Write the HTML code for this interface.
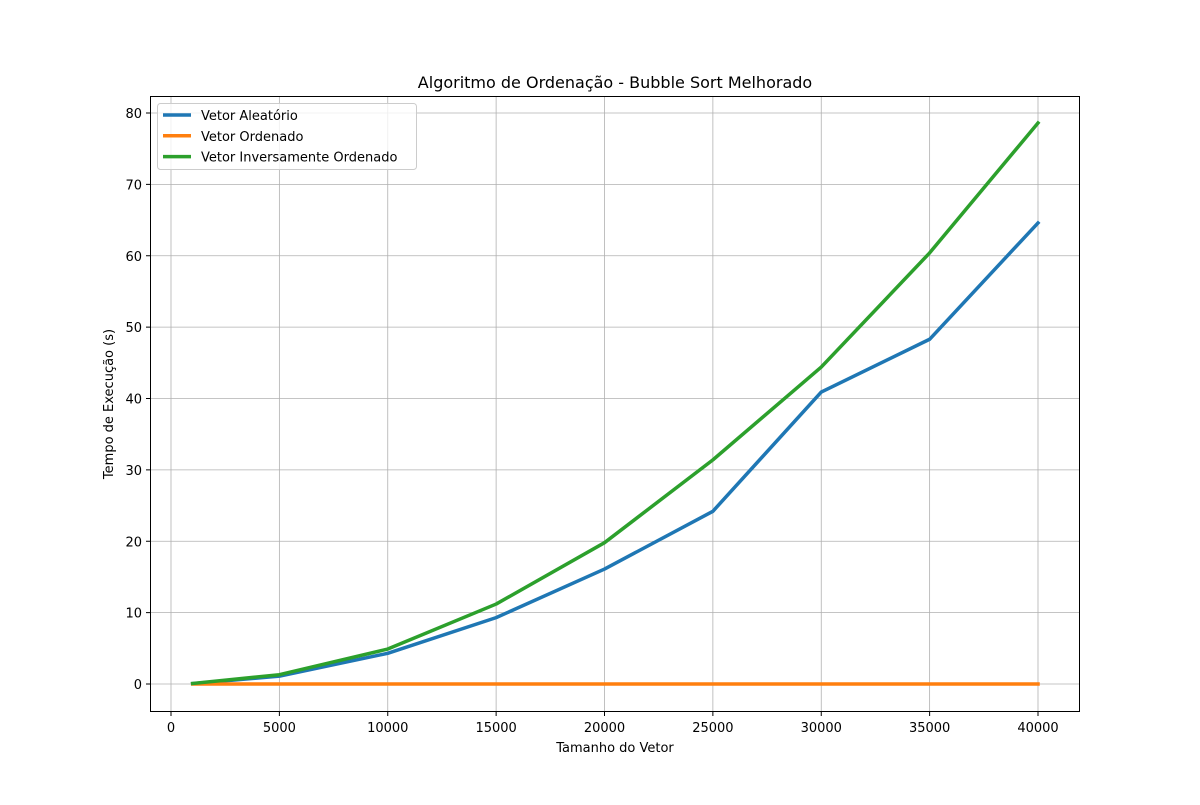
<!DOCTYPE html>
<html><head><meta charset="utf-8"><style>
body{margin:0;background:#fff;}
svg text{font-family:"DejaVu Sans","Liberation Sans",sans-serif;fill:#000;}
</style></head><body>
<svg id="chart" width="1200" height="800" xmlns="http://www.w3.org/2000/svg">
<rect width="1200" height="800" fill="#fff"/>
<g id="grid"></g>
<g id="series"></g>
<rect x="150.5" y="96.5" width="929" height="615" fill="none" stroke="#000" stroke-width="1"/>
<g id="ticks"></g>
<text x="615" y="88" font-size="16" text-anchor="middle">Algoritmo de Ordenação - Bubble Sort Melhorado</text>
<text x="615" y="752" font-size="13" text-anchor="middle">Tamanho do Vetor</text>
<text transform="translate(113,404) rotate(-90)" font-size="13" text-anchor="middle">Tempo de Execução (s)</text>
<g id="legend">
<rect x="157.5" y="103.5" width="259" height="66" rx="3" fill="#fff" fill-opacity="0.8" stroke="#ccc"/>
</g>
</svg>
<script>
const sizes=[1000,5000,10000,15000,20000,25000,30000,35000,40000];
const aleatorio=[0.05,1.1,4.3,9.3,16.1,24.2,40.9,48.3,64.6];
const ordenado=[0,0,0,0,0,0,0,0,0];
const inverso=[0.07,1.3,4.9,11.2,19.8,31.4,44.4,60.4,78.6];
const seriesNames=["Vetor Aleatório","Vetor Ordenado","Vetor Inversamente Ordenado"];
const xTicks=[0,5000,10000,15000,20000,25000,30000,35000,40000];
const yTicks=[0,10,20,30,40,50,60,70,80];

const NS="http://www.w3.org/2000/svg";
function xS(v){return 171+v*(867/40000);}
function yS(v){return 684-v*(571/80);}
function mk(tag,attrs,parent){const e=document.createElementNS(NS,tag);for(const k in attrs)e.setAttribute(k,attrs[k]);parent.appendChild(e);return e;}
const grid=document.getElementById('grid'),ticks=document.getElementById('ticks'),ser=document.getElementById('series'),leg=document.getElementById('legend');
xTicks.forEach(v=>{
  const x=xS(v);
  const g=mk('line',{x1:x,x2:x,y1:96,y2:712,stroke:'#b0b0b0','stroke-width':0.8},grid);
  
  
  mk('line',{x1:x,x2:x,y1:712,y2:716,stroke:'#000'},ticks);
  const t=mk('text',{x:x,y:732,'font-size':13,'text-anchor':'middle'},ticks);
  t.textContent=v;
  
  
});
yTicks.forEach(v=>{
  const y=yS(v);
  const g=mk('line',{x1:150,x2:1080,y1:y,y2:y,stroke:'#b0b0b0','stroke-width':0.8},grid);
  
  
  mk('line',{x1:146,x2:150,y1:y,y2:y,stroke:'#000'},ticks);
  const t=mk('text',{x:142,y:y+5,'font-size':13,'text-anchor':'end'},ticks);
  t.textContent=v;
  
  
});
const all=[aleatorio,ordenado,inverso],colors=['#1f77b4','#ff7f0e','#2ca02c'],names=['line-aleatorio','line-ordenado','line-inverso'];
all.forEach((d,i)=>{
  const p=mk('polyline',{points:d.map((v,j)=>xS(sizes[j])+','+yS(v)).join(' '),fill:'none',stroke:colors[i],'stroke-width':3.5,'stroke-linejoin':'round','stroke-linecap':'square'},ser);
  
  
  const ly=115+i*20.8;
  mk('line',{x1:163,x2:191,y1:ly,y2:ly,stroke:colors[i],'stroke-width':3.5},leg);
  const t=mk('text',{x:201,y:ly+5,'font-size':13},leg);
  t.textContent=seriesNames[i];
  
  
});
</script>
</body></html>
